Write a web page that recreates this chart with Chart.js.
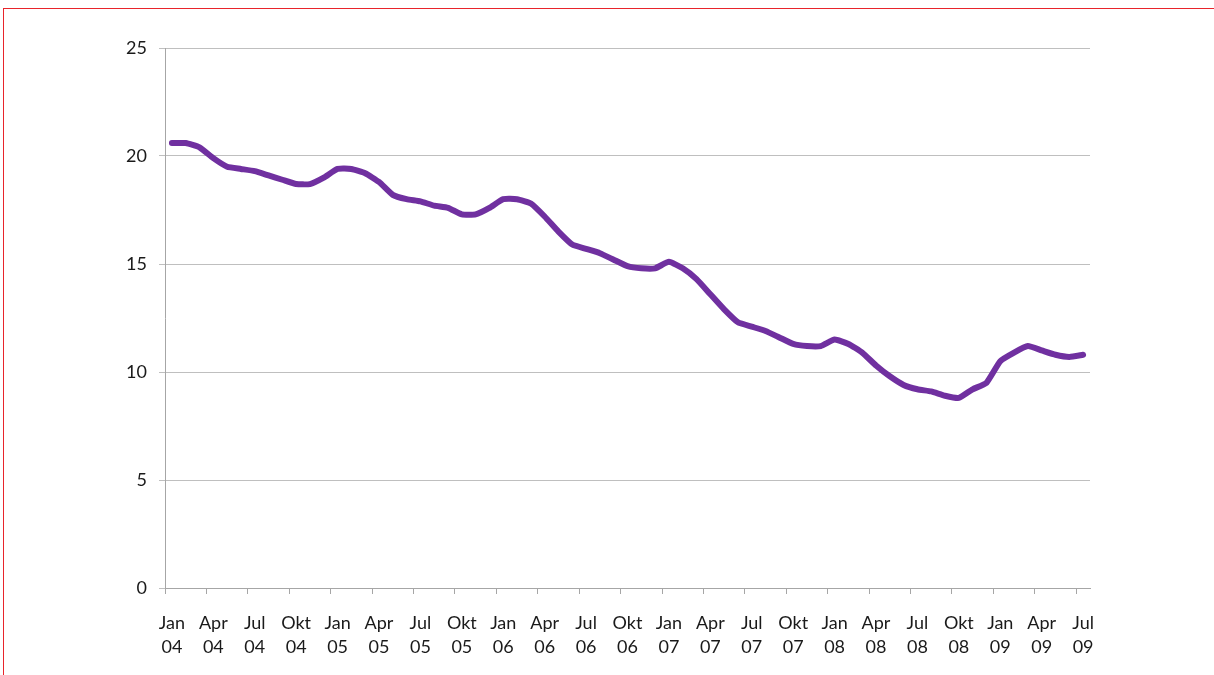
<!DOCTYPE html>
<html>
<head>
<meta charset="utf-8">
<script src="https://cdn.jsdelivr.net/npm/chart.js@4/dist/chart.umd.min.js"></script>
<style>
  html, body { margin: 0; padding: 0; background: #ffffff; }
  #wrap { position: relative; width: 1214px; height: 675px; overflow: hidden; }
  #frame { position: absolute; left: 3px; top: 8px; width: 1300px; height: 700px;
           border-top: 1px solid #e8242b; border-left: 1px solid #e8242b; }
  #c { position: absolute; left: 0; top: 0; }
</style>
</head>
<body>
<div id="wrap">
  <div id="frame"></div>
  <canvas id="c" width="1214" height="675"></canvas>
</div>
<script>
// Monthly categories Jan 04 .. Jul 09
const monthNames = ["Jan","Feb","Mar","Apr","Mai","Jun","Jul","Aug","Sep","Okt","Nov","Des"];
const years = ["04","05","06","07","08","09"];
const categories = [];
for (const y of years) {
  for (const m of monthNames) {
    categories.push(m + " " + y);
    if (y === "09" && m === "Jul") break;
  }
}
const seriesValues = [
  20.6, 20.6, 20.4, 19.9, 19.5, 19.4, 19.3, 19.1, 18.9, 18.7, 18.7, 19.0,
  19.4, 19.4, 19.2, 18.8, 18.2, 18.0, 17.9, 17.7, 17.6, 17.3, 17.3, 17.6,
  18.0, 18.0, 17.8, 17.2, 16.5, 15.9, 15.7, 15.5, 15.2, 14.9, 14.8, 14.8,
  15.1, 14.8, 14.3, 13.6, 12.9, 12.3, 12.1, 11.9, 11.6, 11.3, 11.2, 11.2,
  11.5, 11.3, 10.9, 10.3, 9.8, 9.4, 9.2, 9.1, 8.9, 8.8, 9.2, 9.5,
  10.5, 10.9, 11.2, 11.0, 10.8, 10.7, 10.8
];
const yTicks = [0, 5, 10, 15, 20, 25];

const FONT = "Lato, 'Open Sans', sans-serif";

new Chart(document.getElementById("c"), {
  type: "line",
  data: {
    labels: categories,
    datasets: [{
      data: seriesValues,
      borderColor: "#7030a0",
      backgroundColor: "#7030a0",
      borderWidth: 6,
      pointRadius: 0,
      tension: 0.15,
      borderJoinStyle: "round",
      borderCapStyle: "round",
      fill: false
    }]
  },
  options: {
    responsive: false,
    animation: false,
    devicePixelRatio: 1,
    layout: { padding: { top: 48, right: 124, left: 0, bottom: 0 } },
    plugins: { legend: { display: false }, tooltip: { enabled: false }, title: { display: false } },
    scales: {
      x: {
        type: "category",
        offset: true,
        grid: {
          offset: true, drawOnChartArea: false, drawTicks: true, tickLength: 6,
          color: function(ctx) { return (ctx.index % 3 === 0) ? "#a6a6a6" : "rgba(0,0,0,0)"; }
        },
        border: { color: "#a6a6a6", width: 1 },
        ticks: {
          autoSkip: false, maxRotation: 0, minRotation: 0, padding: 17,
          color: "#1a1a1a", font: { family: FONT, size: 18, lineHeight: 1.35 },
          callback: function(v, i) {
            if (i % 3 !== 0) return "";
            return categories[i].split(" ");
          }
        },
        afterFit: function(s) { s.height = 87; }
      },
      y: {
        min: 0, max: 25,
        afterBuildTicks: function(s) { s.ticks = yTicks.map(v => ({ value: v })); },
        grid: { color: "#bfbfbf", tickLength: 6, drawTicks: true },
        border: { color: "#a6a6a6", width: 1 },
        ticks: { padding: 12, color: "#1a1a1a", font: { family: FONT, size: 18 } },
        afterFit: function(s) { s.width = 165; }
      }
    }
  }
});
</script>
</body>
</html>
